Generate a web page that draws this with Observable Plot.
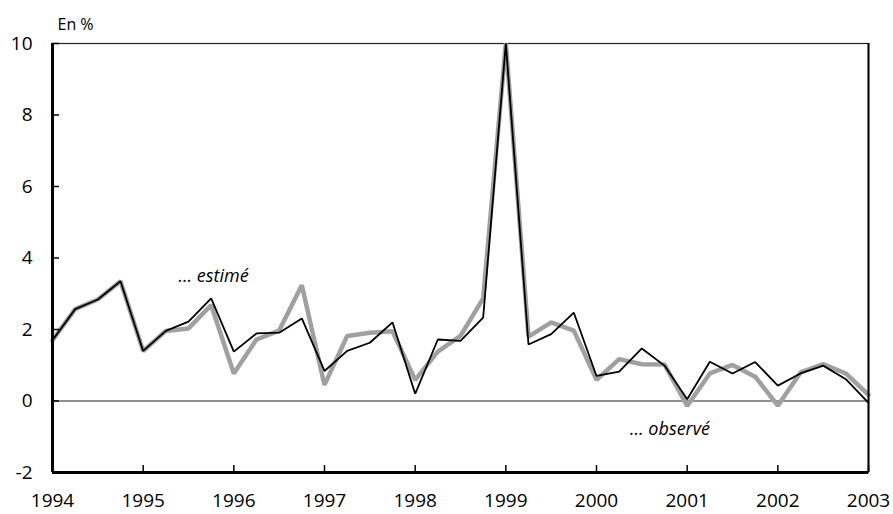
<!DOCTYPE html>
<html>
<head>
<meta charset="utf-8">
<script src="https://cdn.jsdelivr.net/npm/d3@7"></script>
<script src="https://cdn.jsdelivr.net/npm/@observablehq/plot@0.6"></script>
<style>
  html, body { margin: 0; padding: 0; background: #fff; }
  #chart svg { display: block; }
</style>
</head>
<body>
<div id="chart"></div>
<script>
const quarters = [
  1994.00, 1994.25, 1994.50, 1994.75,
  1995.00, 1995.25, 1995.50, 1995.75,
  1996.00, 1996.25, 1996.50, 1996.75,
  1997.00, 1997.25, 1997.50, 1997.75,
  1998.00, 1998.25, 1998.50, 1998.75,
  1999.00, 1999.25, 1999.50, 1999.75,
  2000.00, 2000.25, 2000.50, 2000.75,
  2001.00, 2001.25, 2001.50, 2001.75,
  2002.00, 2002.25, 2002.50, 2002.75,
  2003.00
];
const observe = [
  1.70, 2.57, 2.84, 3.35,
  1.40, 1.96, 2.03, 2.68,
  0.77, 1.72, 1.97, 3.24,
  0.45, 1.82, 1.91, 1.95,
  0.59, 1.38, 1.82, 2.87,
  10.0, 1.80, 2.20, 1.97,
  0.59, 1.17, 1.03, 1.02,
  -0.14, 0.77, 1.01, 0.68,
  -0.13, 0.80, 1.03, 0.77,
  0.17
];
const estime = [
  1.70, 2.57, 2.84, 3.35,
  1.40, 1.96, 2.22, 2.87,
  1.38, 1.89, 1.91, 2.31,
  0.84, 1.40, 1.63, 2.20,
  0.20, 1.72, 1.68, 2.33,
  10.0, 1.58, 1.87, 2.47,
  0.70, 0.82, 1.47, 0.99,
  0.05, 1.10, 0.77, 1.09,
  0.43, 0.77, 0.99, 0.61,
  -0.05
];
const yearTicks = [1994, 1995, 1996, 1997, 1998, 1999, 2000, 2001, 2002, 2003];
const yTicks = [-2, 0, 2, 4, 6, 8, 10];
const labels = [
  {x: 1995.39, y: 3.49, text: "… estimé"},
  {x: 2000.37, y: -0.78, text: "… observé"}
];
const unitLabel = "En %";

const obsData = quarters.map((q, i) => ({x: q, y: observe[i]}));
const estData = quarters.map((q, i) => ({x: q, y: estime[i]}));

const font = "'Open Sans', 'Noto Sans', sans-serif";

const chart = Plot.plot({
  width: 893,
  height: 514,
  marginLeft: 52,
  marginRight: 25,
  marginTop: 43,
  marginBottom: 42,
  style: {fontFamily: font, fontSize: "19px", color: "#000", background: "#fff"},
  x: {domain: [1994, 2003]},
  y: {domain: [-2, 10]},
  marks: [
    Plot.frame({stroke: "#222", strokeWidth: 1.2}),
    Plot.ruleY([0], {stroke: "#222", strokeWidth: 1.2}),
    Plot.line(obsData, {x: "x", y: "y", stroke: "#a0a0a0", strokeWidth: 4.5, strokeLinejoin: "miter"}),
    Plot.line(estData, {x: "x", y: "y", stroke: "#000", strokeWidth: 1.8, strokeLinejoin: "miter"}),
    Plot.ruleX([2003], {stroke: "#000", strokeWidth: 2}),
    Plot.ruleX([1994], {stroke: "#000", strokeWidth: 3}),
    Plot.ruleY([-2], {stroke: "#000", strokeWidth: 3}),
    Plot.axisX(yearTicks, {tickSize: -7, strokeWidth: 1.5, tickFormat: () => "", label: null}),
    Plot.axisX(yearTicks, {tickSize: 0, tickPadding: 21, tickFormat: d => String(d), label: null, fontSize: 19}),
    Plot.axisY(yTicks, {tickSize: -7, strokeWidth: 1.5, tickFormat: () => "", label: null}),
    Plot.axisY(yTicks, {tickSize: 0, tickPadding: 20, tickFormat: d => String(d), label: null, fontSize: 19}),
    Plot.text(labels, {x: "x", y: "y", text: "text", textAnchor: "start", fontStyle: "italic", fontSize: 18, fill: "#000"}),
    Plot.text([unitLabel], {frameAnchor: "top-left", textAnchor: "start", dx: 5, dy: -25, fontSize: 16, fill: "#000"})
  ]
});
document.getElementById("chart").appendChild(chart);
</script>
</body>
</html>
